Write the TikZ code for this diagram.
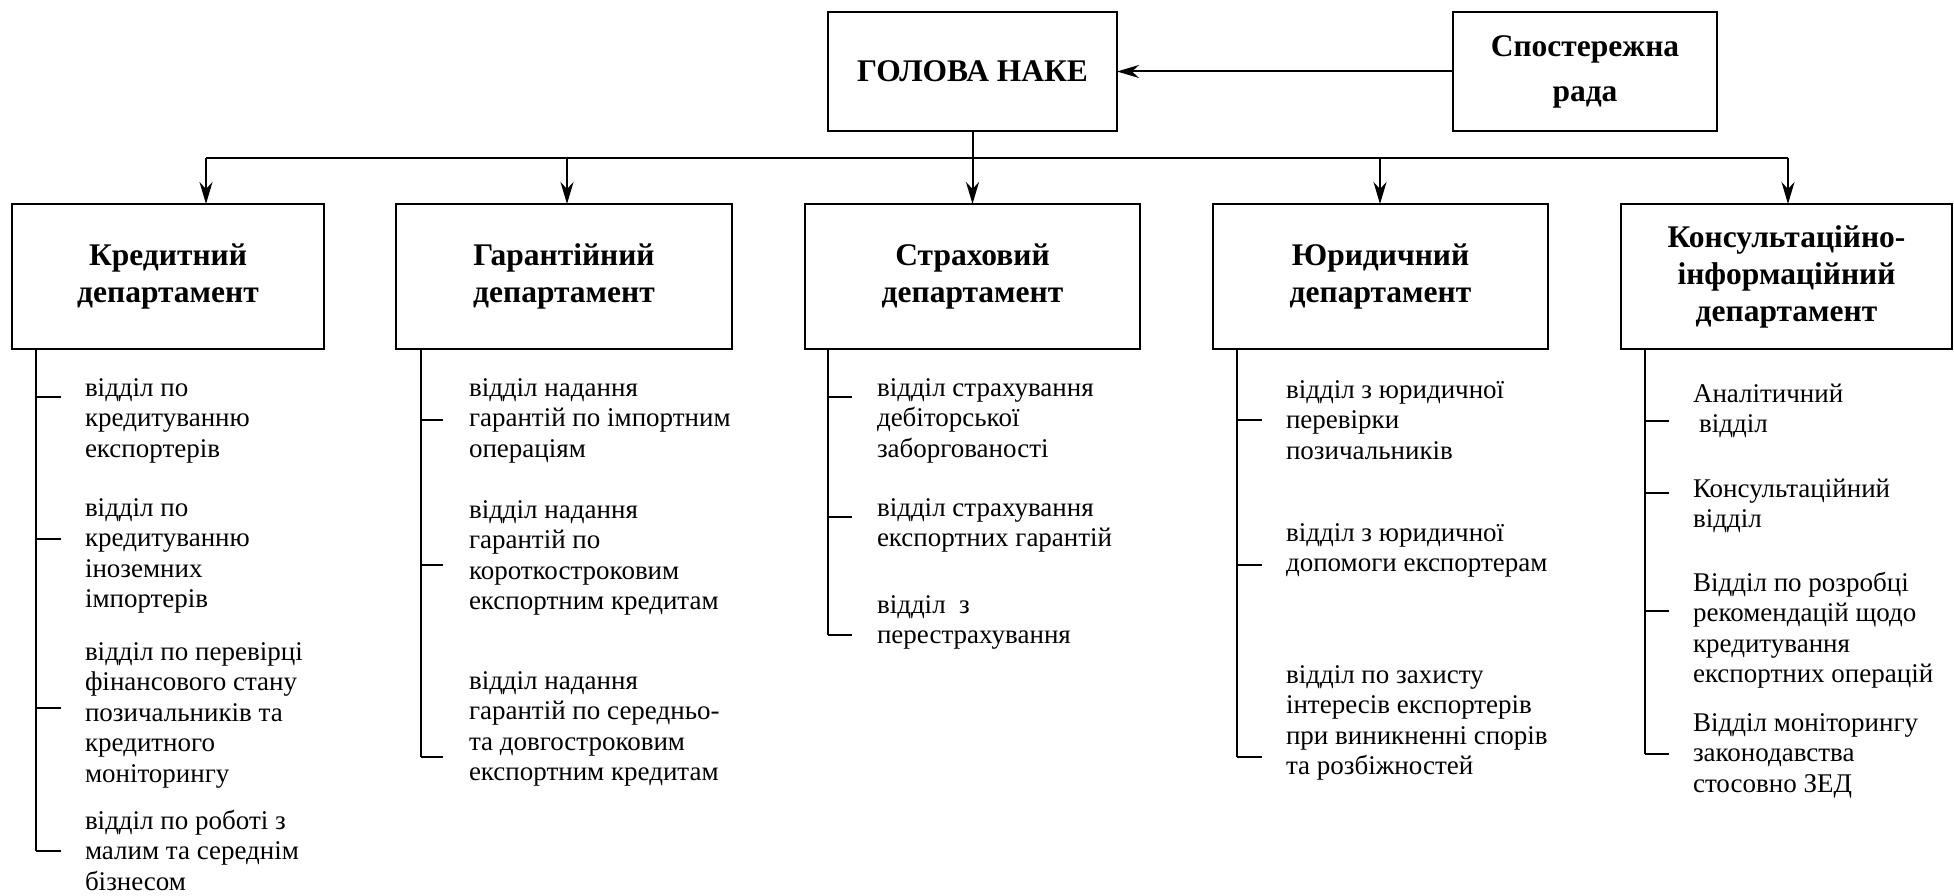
\documentclass[tikz,border=0pt]{standalone}
\usepackage{fontspec}
\setmainfont{Liberation Serif}
\usetikzlibrary{arrows.meta}
\newcommand\hdfont{\fontsize{31.5pt}{37pt}\selectfont\bfseries}
\newcommand\lstfont{\fontsize{27pt}{30.5pt}\selectfont}
\begin{document}
\begin{tikzpicture}[x=1pt,y=-1pt,
  every node/.style={inner sep=0pt, outer sep=0pt},
  box/.style={draw, line width=2pt, align=center, font=\hdfont},
  topbox/.style={box, minimum height=119pt},
  dept/.style={box, minimum height=145pt},
  % a unit list is placed by the baseline of its last line
  unit/.style={align=left, anchor=base west, font=\lstfont},
  link/.style={line width=2pt},
  arr/.style={link, -{Stealth[length=22pt, width=13pt, inset=7pt]}},
  tick/.style={line width=2pt}]
\useasboundingbox (0,0) rectangle (1954,896);

% top level
\node[topbox, minimum width=289pt] (head) at (972.5,71.5) {ГОЛОВА НАКЕ};
\node[topbox, minimum width=264pt, font=\fontsize{31.5pt}{45pt}\selectfont\bfseries] (board) at (1585,71.5) {Спостережна\\рада};
\draw[arr] (board.west) -- (head.east);

% departments
\node[dept, minimum width=312pt] (kred)   at (168,276.5)   {Кредитний\\департамент};
\node[dept, minimum width=336pt] (garant) at (564,276.5)   {Гарантійний\\департамент};
\node[dept, minimum width=335pt] (strakh) at (972.5,276.5) {Страховий\\департамент};
\node[dept, minimum width=335pt] (yur)    at (1380.5,276.5){Юридичний\\департамент};
\node[dept, minimum width=331pt] (kons)   at (1786.5,276.5){Консультаційно-\\інформаційний\\департамент};

% distribution bus
\coordinate (b1) at (206,158);
\coordinate (b2) at (567,158);
\coordinate (b4) at (1380,158);
\coordinate (b5) at (1788,158);
\draw[link] (b1) -- (b5);
\draw[arr] (head.south) -- (strakh.north);
\draw[arr] (b1) -- (b1 |- kred.north);
\draw[arr] (b2) -- (b2 |- garant.north);
\draw[arr] (b4) -- (b4 |- yur.north);
\draw[arr] (b5) -- (b5 |- kons.north);

% credit department units
\node[unit] (k1) at (85,457) {відділ по\\кредитуванню\\експортерів};
\node[unit] (k2) at (85,607.5) {відділ по\\кредитуванню\\іноземних\\імпортерів};
\node[unit] (k3) at (85,782) {відділ по перевірці\\фінансового стану\\позичальників та\\кредитного\\моніторингу};
\node[unit] (k4) at (85,890) {відділ по роботі з\\малим та середнім\\бізнесом};
\draw[link] (36,0 |- kred.south) -- (36,851);
\foreach \y in {397,539,708,851} \draw[tick] (36,\y) -- (61,\y);

% guarantee department units
\node[unit] (g1) at (469,457) {відділ надання\\гарантій по імпортним\\операціям};
\node[unit] (g2) at (469,609.5) {відділ надання\\гарантій по\\короткостроковим\\експортним кредитам};
\node[unit] (g3) at (469,780.5) {відділ надання\\гарантій по середньо-\\та довгостроковим\\експортним кредитам};
\draw[link] (421,0 |- garant.south) -- (421,757);
\foreach \y in {420,565,757} \draw[tick] (421,\y) -- (443,\y);

% insurance department units
\node[unit] (s1) at (877,457) {відділ страхування\\дебіторської\\заборгованості};
\node[unit] (s2) at (877,546.5) {відділ страхування\\експортних гарантій};
\node[unit] (s3) at (877,643.5) {відділ~~з\\перестрахування};
\draw[link] (828,0 |- strakh.south) -- (828,635);
\foreach \y in {397,517,635} \draw[tick] (828,\y) -- (852,\y);

% legal department units
\node[unit] (y1) at (1286,459) {відділ з юридичної\\перевірки\\позичальників};
\node[unit] (y2) at (1286,571.5) {відділ з юридичної\\допомоги експортерам};
\node[unit] (y3) at (1286,774.5) {відділ по захисту\\інтересів експортерів\\при виникненні спорів\\та розбіжностей};
\draw[link] (1237,0 |- yur.south) -- (1237,757);
\foreach \y in {420,565,757} \draw[tick] (1237,\y) -- (1262,\y);

% consulting department units
\node[unit] (c1) at (1693,432.5) {Аналітичний\\\hspace*{6pt}відділ};
\node[unit] (c2) at (1693,527.5) {Консультаційний\\відділ};
\node[unit] (c3) at (1693,682.5) {Відділ по розробці\\рекомендацій щодо\\кредитування\\експортних операцій};
\node[unit] (c4) at (1693,792) {Відділ моніторингу\\законодавства\\стосовно ЗЕД};
\draw[link] (1645,0 |- kons.south) -- (1645,754);
\foreach \y in {421,493,611,754} \draw[tick] (1645,\y) -- (1669,\y);
\end{tikzpicture}
\end{document}
